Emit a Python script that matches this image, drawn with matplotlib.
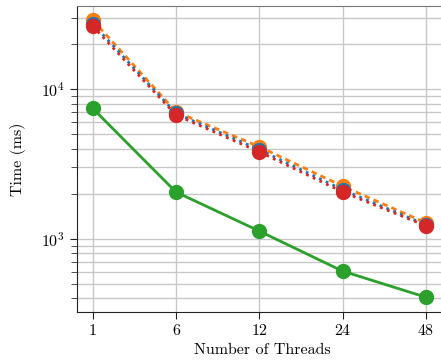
import numpy as np
import matplotlib
matplotlib.use("Agg")
import matplotlib.pyplot as plt

threads = ["1", "6", "12", "24", "48"]
orange_ms = [29100, 7080, 4130, 2250, 1280]
blue_ms = [27500, 6900, 3950, 2130, 1240]
red_ms = [26500, 6730, 3820, 2060, 1220]
green_ms = [7460, 2055, 1127, 608, 407]

plt.rcParams['font.family'] = 'cmr10'
plt.rcParams['mathtext.fontset'] = 'cm'
plt.rcParams['axes.formatter.use_mathtext'] = True
plt.rcParams['font.size'] = 11.5

fig = plt.figure(figsize=(4.41, 3.61), dpi=100)
# right spine falls just outside the picture, as in the original crop
ax = fig.add_axes([0.1746, 0.1357, 0.84, 0.8473])

x = np.arange(len(threads))
ax.plot(x, orange_ms, color='#ff7f0e', linestyle=(0, (2, 1.5)), lw=2, marker='o', ms=10, zorder=3)
ax.plot(x, blue_ms, color='#1f77b4', linestyle=':', lw=2, marker='o', ms=10, zorder=4)
ax.plot(x, red_ms, color='#d62728', linestyle=':', lw=2, marker='o', ms=10, zorder=5)
ax.plot(x, green_ms, color='#2ca02c', linestyle='-', lw=2, marker='o', ms=10, zorder=3)

ax.set_yscale('log')
ax.set_ylim(324, 36000)
ax.set_xlim(-0.188, 4.258)
ax.set_xticks(x)
ax.set_xticklabels(threads)
ax.set_xlabel('Number of Threads', labelpad=4)
ax.set_ylabel('Time (ms)', labelpad=11)

ax.grid(True, which='major', color='#c8c8c8', lw=1)
ax.grid(True, which='minor', axis='y', color='#c8c8c8', lw=1)
ax.set_axisbelow(True)
ax.tick_params(which='major', length=5, color='#222222')
ax.tick_params(which='minor', length=4, color='#333333')
ax.spines['left'].set_color('#222222')
ax.spines['bottom'].set_color('#222222')
ax.spines['top'].set_color('#777777')
ax.spines['right'].set_visible(False)

fig.savefig('out.png', dpi=100)
